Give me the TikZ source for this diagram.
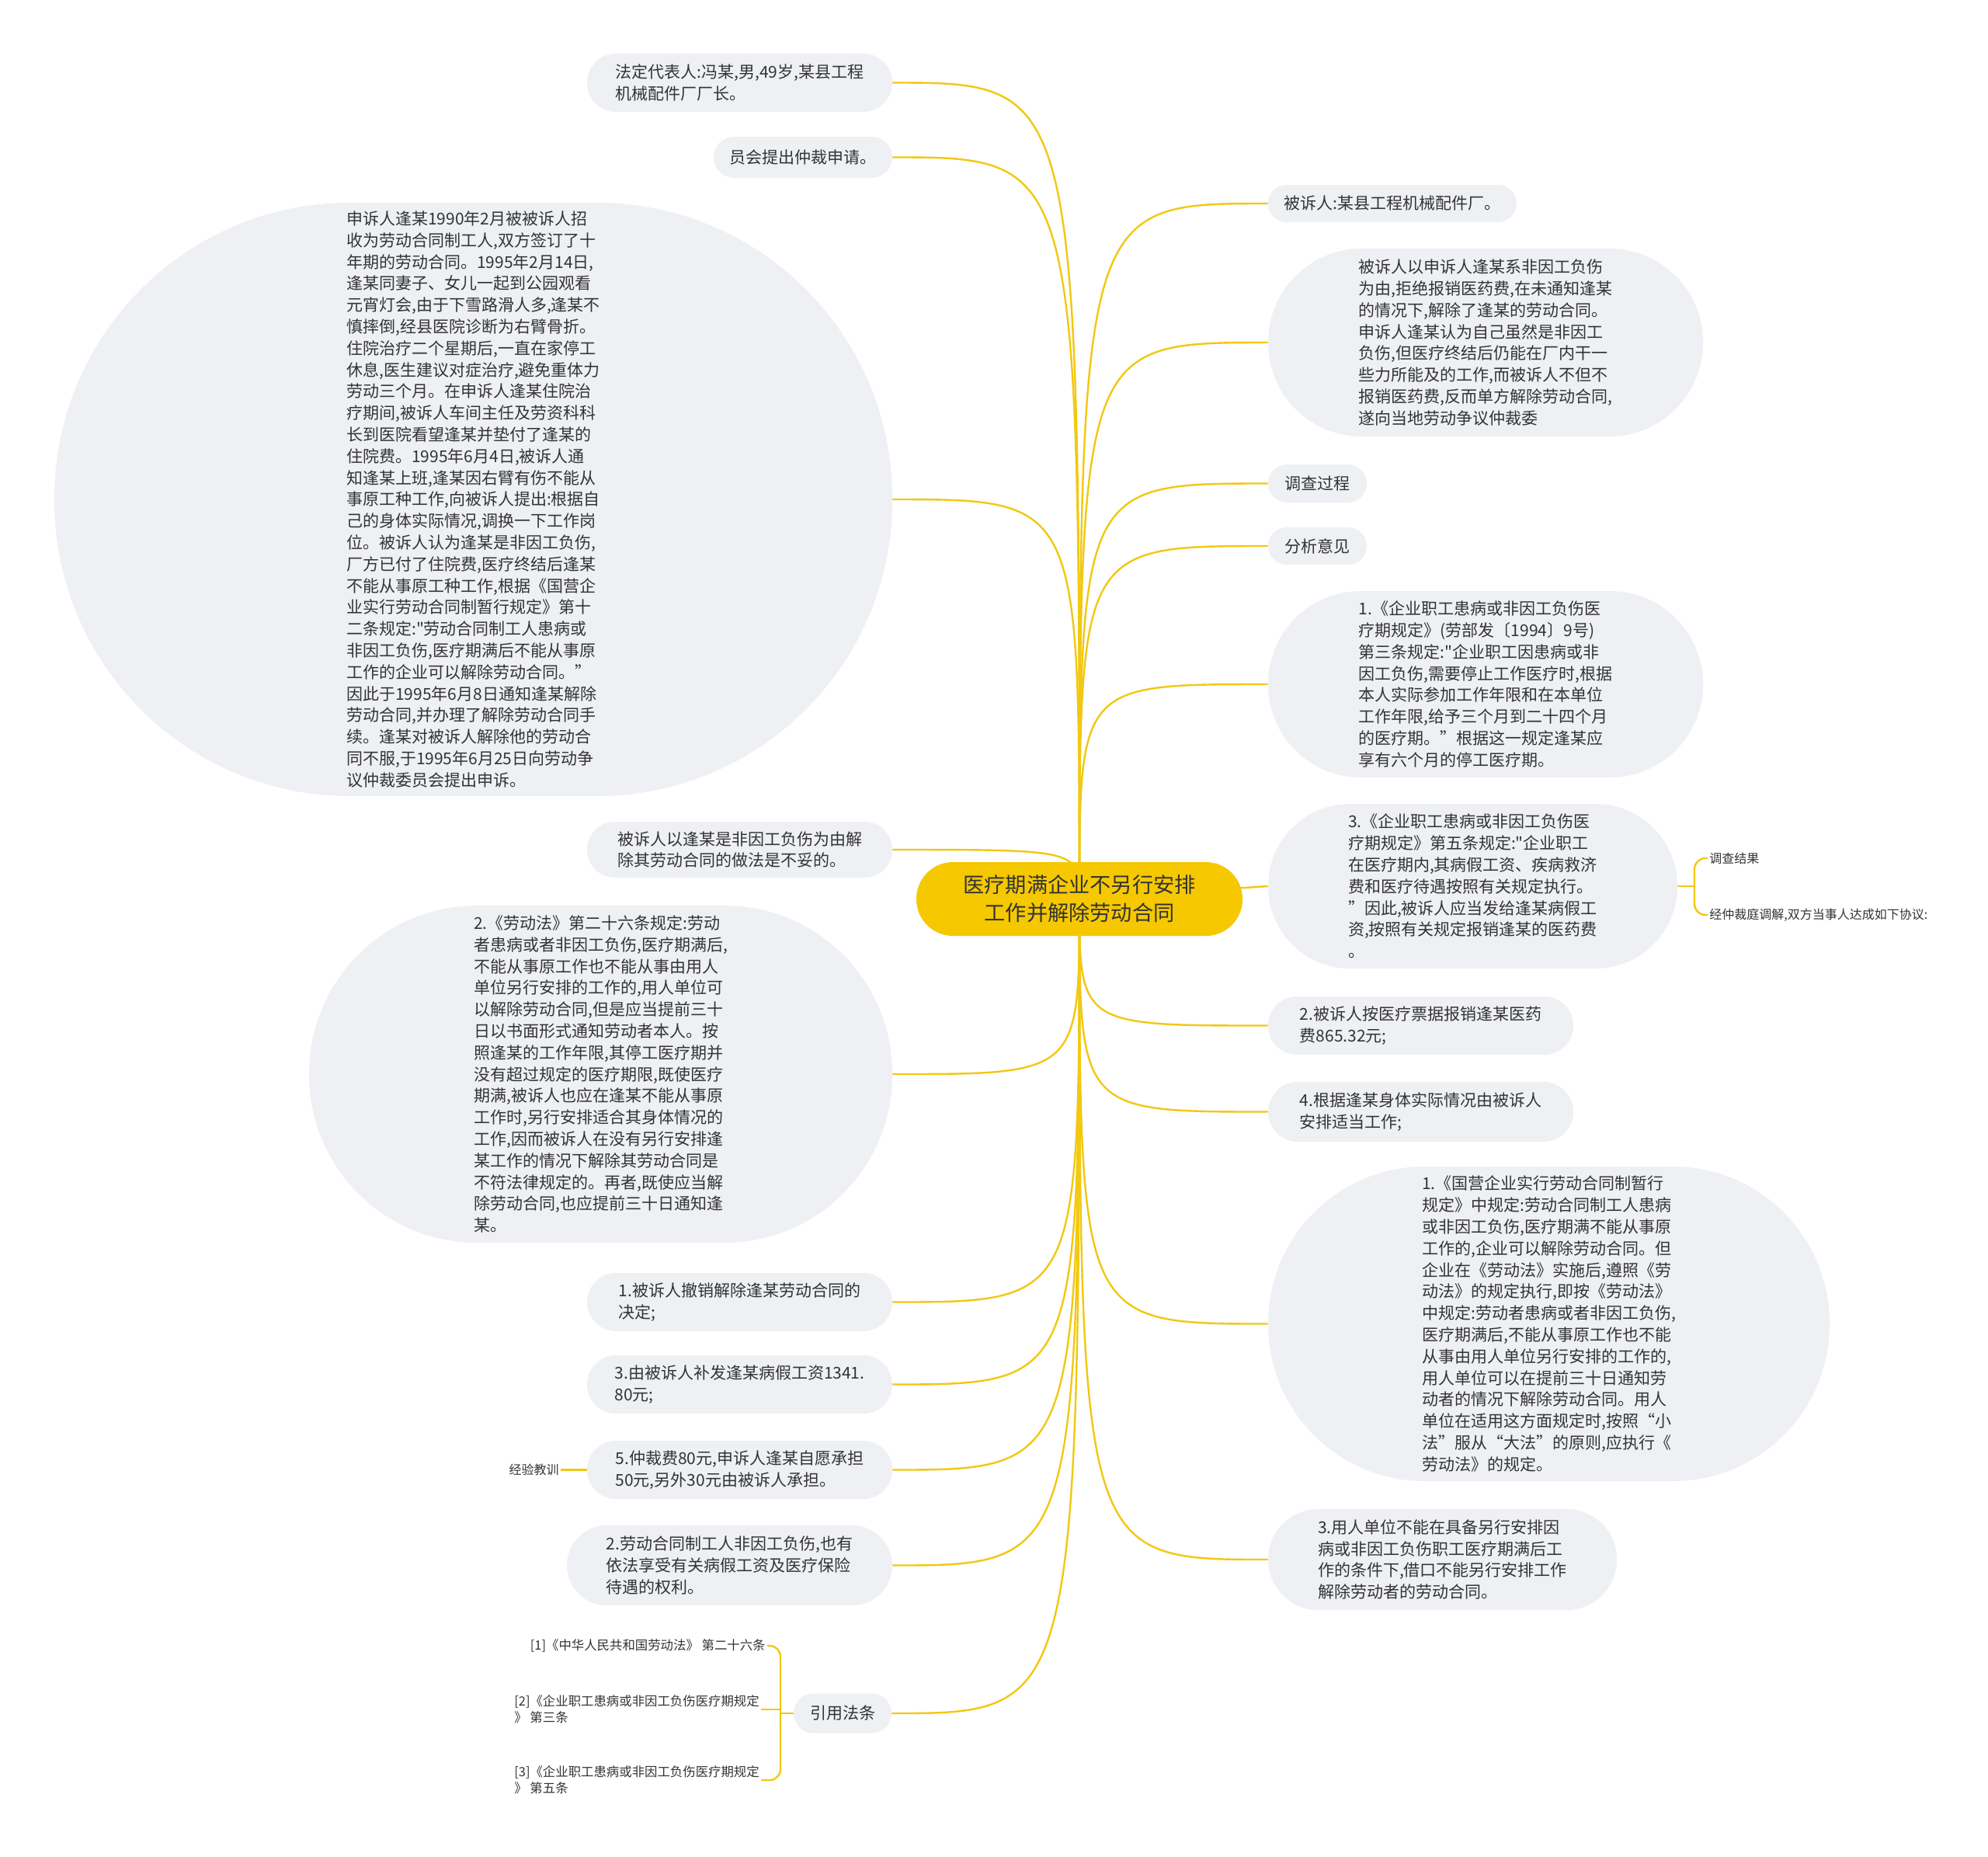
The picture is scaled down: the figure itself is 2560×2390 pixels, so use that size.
\documentclass[tikz,border=0pt]{standalone}
\usepackage{fontspec}
\setmainfont{Noto Sans CJK SC}[Ligatures=TeXOff]
\usetikzlibrary{calc}
\definecolor{nodebg}{HTML}{EEF0F3}
\definecolor{linec}{HTML}{F2C811}
\definecolor{rootc}{HTML}{F5C800}
\definecolor{txt}{HTML}{333333}
\pgfdeclarelayer{back}
\pgfdeclarelayer{bg}
\pgfsetlayers{back,bg,main}
\begin{document}
\begin{tikzpicture}[x=0.5pt,y=-0.5pt,
  box/.style 2 args={fill=nodebg, text=txt, align=left, inner sep=0pt,
    minimum width=#1*0.5pt, minimum height=#2*0.5pt, rounded corners=#2*0.249pt,
    font=\fontsize{10.5pt}{13.9pt}\selectfont},
  rootbox/.style={fill=rootc, text=txt, align=center, inner sep=0pt,
    minimum width=210pt, minimum height=47.5pt, rounded corners=23.6pt,
    font=\fontsize{13.6pt}{18pt}\selectfont},
  smalltxt/.style={text=txt, inner sep=1pt, font=\fontsize{8pt}{10pt}\selectfont},
  reftxt/.style={text=txt, inner sep=1pt, align=left, font=\fontsize{8.2pt}{10.6pt}\selectfont},
  conn/.style={draw=linec, line width=1.2pt},
]
\begin{pgfonlayer}{back}
\fill[white] (0,0) rectangle (2560,2390);
\end{pgfonlayer}
\useasboundingbox (0,0) rectangle (2560,2390);

% root
\node[rootbox] (C) at (1390,1157.5) {医疗期满企业不另行安排\\工作并解除劳动合同};

% left nodes
\node[box={393}{75}] (L1) at (952.5,106.5) {法定代表人:冯某,男,49岁,某县工程\\
机械配件厂厂长。};
\node[box={230}{53}] (L2) at (1034,202.5) {员会提出仲裁申请。};
\node[box={1079}{764}] (L3) at (609.5,643) {申诉人逢某1990年2月被被诉人招\\
收为劳动合同制工人,双方签订了十\\
年期的劳动合同。1995年2月14日,\\
逢某同妻子、女儿一起到公园观看\\
元宵灯会,由于下雪路滑人多,逢某不\\
慎摔倒,经县医院诊断为右臂骨折。\\
住院治疗二个星期后,一直在家停工\\
休息,医生建议对症治疗,避免重体力\\
劳动三个月。在申诉人逢某住院治\\
疗期间,被诉人车间主任及劳资科科\\
长到医院看望逢某并垫付了逢某的\\
住院费。1995年6月4日,被诉人通\\
知逢某上班,逢某因右臂有伤不能从\\
事原工种工作,向被诉人提出:根据自\\
己的身体实际情况,调换一下工作岗\\
位。被诉人认为逢某是非因工负伤,\\
厂方已付了住院费,医疗终结后逢某\\
不能从事原工种工作,根据《国营企\\
业实行劳动合同制暂行规定》第十\\
二条规定:"劳动合同制工人患病或\\
非因工负伤,医疗期满后不能从事原\\
工作的企业可以解除劳动合同。”\\
因此于1995年6月8日通知逢某解除\\
劳动合同,并办理了解除劳动合同手\\
续。逢某对被诉人解除他的劳动合\\
同不服,于1995年6月25日向劳动争\\
议仲裁委员会提出申诉。};
\node[box={393}{72}] (L4) at (952.5,1094) {被诉人以逢某是非因工负伤为由解\\
除其劳动合同的做法是不妥的。};
\node[box={751}{434}] (L5) at (773.5,1383) {2.《劳动法》第二十六条规定:劳动\\
者患病或者非因工负伤,医疗期满后,\\
不能从事原工作也不能从事由用人\\
单位另行安排的工作的,用人单位可\\
以解除劳动合同,但是应当提前三十\\
日以书面形式通知劳动者本人。按\\
照逢某的工作年限,其停工医疗期并\\
没有超过规定的医疗期限,既使医疗\\
期满,被诉人也应在逢某不能从事原\\
工作时,另行安排适合其身体情况的\\
工作,因而被诉人在没有另行安排逢\\
某工作的情况下解除其劳动合同是\\
不符法律规定的。再者,既使应当解\\
除劳动合同,也应提前三十日通知逢\\
某。};
\node[box={393}{75}] (L6) at (952.5,1676.5) {1.被诉人撤销解除逢某劳动合同的\\
决定;};
\node[box={393}{75}] (L7) at (952.5,1782.5) {3.由被诉人补发逢某病假工资1341.\\
80元;};
\node[box={393}{75}] (L8) at (952.5,1892.5) {5.仲裁费80元,申诉人逢某自愿承担\\
50元,另外30元由被诉人承担。};
\node[box={419}{103}] (L9) at (939.5,2015.5) {2.劳动合同制工人非因工负伤,也有\\
依法享受有关病假工资及医疗保险\\
待遇的权利。};
\node[box={126}{51}] (L10) at (1085,2206) {引用法条};

\node[smalltxt, anchor=east] (jy) at (722,1892.5) {经验教训};

% refs
\node[reftxt, anchor=east] (ref1) at (988,2119) {[1]《中华人民共和国劳动法》 第二十六条};
\node[reftxt, anchor=west] (ref2) at (660,2201) {[2]《企业职工患病或非因工负伤医疗期规定\\
》 第三条};
\node[reftxt, anchor=west] (ref3) at (660,2292) {[3]《企业职工患病或非因工负伤医疗期规定\\
》 第五条};
\coordinate (bk) at (1005,2206);

% right nodes
\node[box={320}{48}] (R1) at (1793,262) {被诉人:某县工程机械配件厂。};
\node[box={560}{242}] (R2) at (1913,441) {被诉人以申诉人逢某系非因工负伤\\
为由,拒绝报销医药费,在未通知逢某\\
的情况下,解除了逢某的劳动合同。\\
申诉人逢某认为自己虽然是非因工\\
负伤,但医疗终结后仍能在厂内干一\\
些力所能及的工作,而被诉人不但不\\
报销医药费,反而单方解除劳动合同,\\
遂向当地劳动争议仲裁委};
\node[box={127}{49}] (R3) at (1696.5,622.5) {调查过程};
\node[box={127}{48}] (R4) at (1696.5,703) {分析意见};
\node[box={560}{240}] (R5) at (1913,881) {1.《企业职工患病或非因工负伤医\\
疗期规定》(劳部发〔1994〕9号)\\
第三条规定:"企业职工因患病或非\\
因工负伤,需要停止工作医疗时,根据\\
本人实际参加工作年限和在本单位\\
工作年限,给予三个月到二十四个月\\
的医疗期。”根据这一规定逢某应\\
享有六个月的停工医疗期。};
\node[box={527}{212}] (R6) at (1896.5,1141) {3.《企业职工患病或非因工负伤医\\
疗期规定》第五条规定:"企业职工\\
在医疗期内,其病假工资、疾病救济\\
费和医疗待遇按照有关规定执行。\\
”因此,被诉人应当发给逢某病假工\\
资,按照有关规定报销逢某的医药费\\
。};
\node[box={393}{75}] (R7) at (1829.5,1320.5) {2.被诉人按医疗票据报销逢某医药\\
费865.32元;};
\node[box={393}{77}] (R8) at (1829.5,1431.5) {4.根据逢某身体实际情况由被诉人\\
安排适当工作;};
\node[box={723}{405}] (R9) at (1994.5,1704.5) {1.《国营企业实行劳动合同制暂行\\
规定》中规定:劳动合同制工人患病\\
或非因工负伤,医疗期满不能从事原\\
工作的,企业可以解除劳动合同。但\\
企业在《劳动法》实施后,遵照《劳\\
动法》的规定执行,即按《劳动法》\\
中规定:劳动者患病或者非因工负伤,\\
医疗期满后,不能从事原工作也不能\\
从事由用人单位另行安排的工作的,\\
用人单位可以在提前三十日通知劳\\
动者的情况下解除劳动合同。用人\\
单位在适用这方面规定时,按照“小\\
法”服从“大法”的原则,应执行《\\
劳动法》的规定。};
\node[box={449}{130}] (R10) at (1857.5,2008) {3.用人单位不能在具备另行安排因\\
病或非因工负伤职工医疗期满后工\\
作的条件下,借口不能另行安排工作\\
解除劳动者的劳动合同。};

\node[smalltxt, anchor=west] (res1) at (2199,1105) {调查结果};
\node[smalltxt, anchor=west] (res2) at (2199,1178) {经仲裁庭调解,双方当事人达成如下协议:};
\coordinate (b6) at (2182,1141);

% connectors
\begin{pgfonlayer}{bg}
\foreach \n in {L1,L2,L3,L4,L5,L6,L7,L8,L9,L10}
  \draw[conn] (C.center) .. controls (C.center |- \n.east) .. (\n.east);
\foreach \n in {R1,R2,R3,R4,R5,R7,R8,R9,R10}
  \draw[conn] (C.center) .. controls (C.center |- \n.west) .. (\n.west);
\draw[conn] (C.center) -- (R6.west);
\draw[conn] (R6.east) -- (b6);
\draw[conn, rounded corners=7pt] (res1.west) -| (b6) |- (res2.west);
\draw[conn] (jy.east) -- (L8.west);
\draw[conn] (L10.west) -- (bk);
\draw[conn, rounded corners=7pt] (ref1.east) -| (bk) |- (ref3.east);
\draw[conn] (ref2.east) -- (bk |- ref2.east);
\end{pgfonlayer}
\end{tikzpicture}
\end{document}
